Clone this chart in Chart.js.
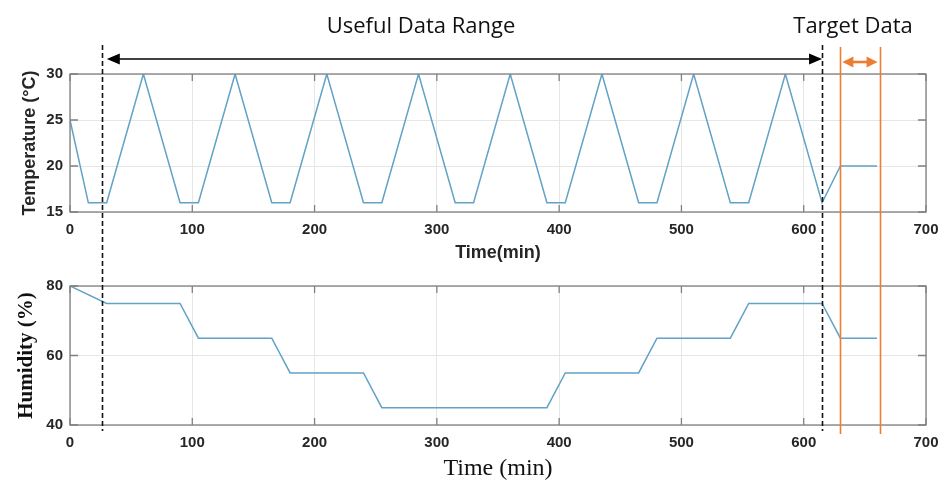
<!DOCTYPE html>
<html>
<head>
<meta charset="utf-8">
<script src="https://cdn.jsdelivr.net/npm/chart.js@4.4.0/dist/chart.umd.min.js"></script>
<style>
  body { margin: 0; background: #fff; }
  #wrap { position: relative; width: 948px; height: 482px; overflow: hidden; }
  #wrap canvas { position: absolute; left: 0; }
  #top { top: 0; }
  #bottom { top: 270px; }
  #overlay { top: 0; pointer-events: none; }
  .note { position: absolute; font-family: "Open Sans", sans-serif; font-size: 22px; line-height: 22px;
          color: #111; white-space: nowrap; transform: translateX(-50%); }
</style>
</head>
<body>
<div id="wrap">
  <canvas id="top" width="948" height="270"></canvas>
  <canvas id="bottom" width="948" height="212"></canvas>
  <canvas id="overlay" width="948" height="482"></canvas>
  <div class="note" style="left:421px; top:13px;">Useful Data Range</div>
  <div class="note" style="left:853px; top:13px;">Target Data</div>
</div>
<script>
// temperature profile (min, degC)
var tempTime  = [0, 15, 30, 60, 90, 105, 135, 165, 180, 210, 240, 255, 285, 315, 330, 360, 390, 405, 435, 465, 480, 510, 540, 555, 585, 615, 630, 660];
var tempValue = [25, 16, 16, 30, 16, 16, 30, 16, 16, 30, 16, 16, 30, 16, 16, 30, 16, 16, 30, 16, 16, 30, 16, 16, 30, 16, 20, 20];

// humidity profile (min, %)
var humTime  = [0, 30, 90, 105, 165, 180, 240, 255, 390, 405, 465, 480, 540, 555, 615, 630, 660];
var humValue = [80, 75, 75, 65, 65, 55, 55, 45, 45, 55, 55, 65, 65, 75, 75, 65, 65];

// marked ranges on the time axis
var usefulRange = [26, 615];
var targetRange = [630, 662];

var lineColor = 'rgb(98,162,198)';
var tickFont = { family: 'Liberation Sans, Arial, sans-serif', size: 15, weight: 'bold' };

function toPoints(xs, ys) {
  var pts = [];
  for (var i = 0; i < xs.length; i++) pts.push({ x: xs[i], y: ys[i] });
  return pts;
}

// matlab style box with inward tick marks
var boxPlugin = {
  id: 'box',
  afterDraw: function(chart) {
    var a = chart.chartArea, ctx = chart.ctx;
    var xs = chart.scales.x, ys = chart.scales.y;
    ctx.save();
    ctx.strokeStyle = '#808080';
    ctx.lineWidth = 1.3;
    ctx.beginPath();
    xs.ticks.forEach(function(t) {
      var p = xs.getPixelForValue(t.value);
      ctx.moveTo(p, a.bottom); ctx.lineTo(p, a.bottom - 7);
      ctx.moveTo(p, a.top); ctx.lineTo(p, a.top + 7);
    });
    ys.ticks.forEach(function(t) {
      var p = ys.getPixelForValue(t.value);
      ctx.moveTo(a.left, p); ctx.lineTo(a.left + 8, p);
      ctx.moveTo(a.right, p); ctx.lineTo(a.right - 8, p);
    });
    ctx.stroke();
    ctx.strokeRect(a.left, a.top, a.right - a.left, a.bottom - a.top);
    ctx.restore();
  }
};

function makeChart(id, pts, yMin, yMax, yStep, pad, xHeight, yTitle, xTitle) {
  return new Chart(document.getElementById(id), {
    type: 'line',
    data: { datasets: [{ data: pts, borderColor: lineColor, borderWidth: 1.5, pointRadius: 0, tension: 0, fill: false }] },
    options: {
      responsive: false,
      animation: false,
      layout: { padding: pad },
      plugins: { legend: { display: false }, tooltip: { enabled: false } },
      scales: {
        x: {
          type: 'linear', min: 0, max: 700,
          ticks: { stepSize: 100, font: tickFont, color: '#262626', padding: 9, maxRotation: 0 },
          grid: { color: '#e6e6e6', drawTicks: false },
          border: { display: false },
          title: xTitle,
          afterFit: function(s) { s.height = xHeight; }
        },
        y: {
          min: yMin, max: yMax,
          ticks: { stepSize: yStep, font: tickFont, color: '#262626', padding: 7 },
          grid: { color: '#e6e6e6', drawTicks: false },
          border: { display: false },
          title: yTitle,
          afterFit: function(s) { s.width = 70; }
        }
      }
    },
    plugins: [boxPlugin]
  });
}

var topChart = makeChart('top', toPoints(tempTime, tempValue), 15, 30, 5,
  { top: 74, right: 22, left: 0, bottom: 0 }, 58,
  { display: true, text: 'Temperature (°C)', color: '#262626', padding: { top: 19, bottom: 0 },
    font: { family: 'Liberation Sans, Arial, sans-serif', size: 18, weight: 'bold', lineHeight: 1.2 } },
  { display: true, text: 'Time(min)', color: '#262626', padding: { top: 0, bottom: 6 },
    font: { family: 'Liberation Sans, Arial, sans-serif', size: 18, weight: 'bold', lineHeight: 1.2 } });

var bottomChart = makeChart('bottom', toPoints(humTime, humValue), 40, 80, 20,
  { top: 16, right: 22, left: 0, bottom: 0 }, 57,
  { display: true, text: 'Humidity (%)', color: '#111', padding: { top: 14, bottom: 0 },
    font: { family: 'Liberation Serif, Times New Roman, serif', size: 21, weight: 'bold', lineHeight: 1.2 } },
  { display: true, text: 'Time (min)', color: '#111', padding: { top: 0, bottom: 1 },
    font: { family: 'Liberation Serif, Times New Roman, serif', size: 24, weight: 'normal', lineHeight: 1.0 } });

// range markers spanning both panels
function arrow(ctx, x1, x2, y, head, half, color, width) {
  ctx.strokeStyle = color; ctx.fillStyle = color; ctx.lineWidth = width;
  ctx.beginPath(); ctx.moveTo(x1 + head - 1, y); ctx.lineTo(x2 - head + 1, y); ctx.stroke();
  ctx.beginPath(); ctx.moveTo(x1, y); ctx.lineTo(x1 + head, y - half); ctx.lineTo(x1 + head, y + half); ctx.closePath(); ctx.fill();
  ctx.beginPath(); ctx.moveTo(x2, y); ctx.lineTo(x2 - head, y - half); ctx.lineTo(x2 - head, y + half); ctx.closePath(); ctx.fill();
}

var ov = document.getElementById('overlay').getContext('2d');
var xs = topChart.scales.x;
var lineTop = topChart.chartArea.top - 29;
var lineBottom = 270 + bottomChart.chartArea.bottom + 6;

ov.save();
ov.setLineDash([5, 3]);
ov.strokeStyle = '#111';
ov.lineWidth = 1.6;
usefulRange.forEach(function(v) {
  var p = Math.round(xs.getPixelForValue(v)) + 0.5;
  ov.beginPath(); ov.moveTo(p, lineTop); ov.lineTo(p, lineBottom); ov.stroke();
});
ov.setLineDash([]);
ov.strokeStyle = '#ed7d31';
ov.lineWidth = 1.6;
targetRange.forEach(function(v) {
  var p = Math.round(xs.getPixelForValue(v)) + 0.5;
  ov.beginPath(); ov.moveTo(p, lineTop + 2); ov.lineTo(p, lineBottom + 3); ov.stroke();
});
arrow(ov, xs.getPixelForValue(usefulRange[0]) + 5, xs.getPixelForValue(usefulRange[1]), lineTop + 14, 13, 5.5, '#000', 1.6);
arrow(ov, xs.getPixelForValue(targetRange[0]) + 2, xs.getPixelForValue(targetRange[1]) - 2, lineTop + 17, 11, 5.5, '#ed7d31', 2.6);
ov.restore();
</script>
</body>
</html>
